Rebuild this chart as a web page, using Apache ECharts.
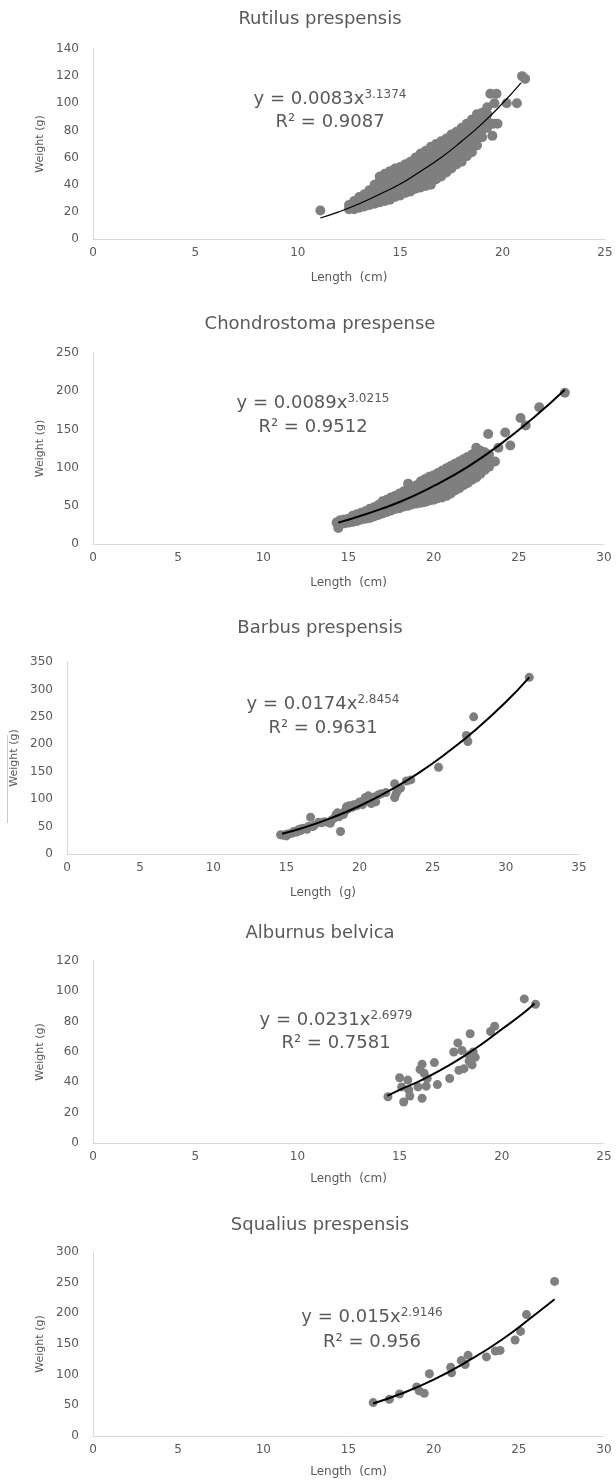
<!DOCTYPE html>
<html>
<head>
<meta charset="utf-8">
<script src="https://cdn.jsdelivr.net/npm/echarts@6/dist/echarts.min.js"></script>
<style>
html,body{margin:0;padding:0;background:#fff;}
#chart{width:616px;height:1480px;}
</style>
</head>
<body>
<div id="chart"></div>
<script>
// ---------- data ----------
var speciesNames = ['Rutilus prespensis', 'Chondrostoma prespense', 'Barbus prespensis', 'Alburnus belvica', 'Squalius prespensis'];
var xAxisNames = ['Length  (cm)', 'Length  (cm)', 'Length  (g)', 'Length  (cm)', 'Length  (cm)'];
var yAxisName = 'Weight (g)';
var xMax = [25, 30, 35, 25, 30];
var yMax = [140, 250, 350, 120, 300];
var yStep = [20, 50, 50, 20, 50];
var coefA = ['0.0083', '0.0089', '0.0174', '0.0231', '0.015'];
var expB = ['3.1374', '3.0215', '2.8454', '2.6979', '2.9146'];
var rSquared = ['0.9087', '0.9512', '0.9631', '0.7581', '0.956'];

var rutilusPoints = [
[11.1,21],
[12.5,22],[12.5,25],
[12.75,22],[12.75,26],[12.75,28],
[13,23],[13,26],[13,29],[13,31],
[13.25,24],[13.25,27],[13.25,30],[13.25,33],
[13.5,25],[13.5,28],[13.5,31],[13.5,34],[13.5,36],
[13.75,26],[13.75,29],[13.75,33],[13.75,37],[13.75,40],
[14,27],[14,31],[14,35],[14,39],[14,43],[14,46],
[14.25,28],[14.25,32],[14.25,36],[14.25,40],[14.25,44],[14.25,48],
[14.5,29],[14.5,33],[14.5,38],[14.5,42],[14.5,46],[14.5,50],
[14.75,31],[14.75,35],[14.75,39],[14.75,44],[14.75,48],[14.75,52],
[15,32],[15,36],[15,41],[15,45],[15,49],[15,53],
[15.25,34],[15.25,38],[15.25,43],[15.25,47],[15.25,51],[15.25,55],
[15.5,35],[15.5,40],[15.5,45],[15.5,49],[15.5,53],[15.5,57],
[15.75,37],[15.75,42],[15.75,47],[15.75,52],[15.75,56],[15.75,60],
[16,38],[16,43],[16,49],[16,54],[16,58],[16,63],
[16.25,39],[16.25,45],[16.25,51],[16.25,56],[16.25,61],[16.25,65],
[16.5,40],[16.5,46],[16.5,52],[16.5,58],[16.5,63],[16.5,68],
[16.75,44],[16.75,49],[16.75,55],[16.75,60],[16.75,65],[16.75,70],
[17,46],[17,51],[17,57],[17,62],[17,67],[17,72],
[17.25,49],[17.25,54],[17.25,60],[17.25,65],[17.25,70],[17.25,74],
[17.5,52],[17.5,57],[17.5,63],[17.5,68],[17.5,73],[17.5,77],
[17.75,55],[17.75,60],[17.75,65],[17.75,70],[17.75,75],[17.75,79],
[18,57],[18,63],[18,68],[18,73],[18,78],[18,82],
[18.25,61],[18.25,66],[18.25,71],[18.25,76],[18.25,81],[18.25,85],
[18.5,64],[18.5,69],[18.5,74],[18.5,79],[18.5,84],[18.5,88],
[18.75,69],[18.75,74],[18.75,79],[18.75,84],[18.75,89],[18.75,92],
[19,75],[19,80],[19,85],[19,89],[19,93],
[19.25,82],[19.25,87],[19.25,92],[19.25,97],
[19.4,107],[19.7,107],[19.6,100],[20.2,100],[20.7,100],[19.5,76],[19.55,85],[19.75,85],[20.95,120],[21.1,118]
];
var rutilusTrend = [[11.1,15.5],[12,20],[13,26],[14,33],[15,40.5],[16,50],[17,60],[18,72],[19,85],[20,100],[20.9,115]];

var chondrostomaPoints = [
[14.4,21],[14.3,28],
[14.5,26],[14.5,31],
[14.75,27],[14.75,32],
[15,28],[15,33],
[15.25,29],[15.25,34],[15.25,37],
[15.5,30],[15.5,35],[15.5,39],
[15.75,32],[15.75,37],[15.75,41],
[16,33],[16,38],[16,43],
[16.25,34],[16.25,40],[16.25,46],
[16.5,36],[16.5,42],[16.5,48],
[16.75,38],[16.75,44],[16.75,51],
[17,40],[17,46],[17,52],[17,56],
[17.25,42],[17.25,48],[17.25,54],[17.25,58],
[17.5,44],[17.5,50],[17.5,56],[17.5,61],
[17.75,46],[17.75,52],[17.75,58],[17.75,63],
[18,47],[18,54],[18,60],[18,66],
[18.25,49],[18.25,56],[18.25,62],[18.25,69],
[18.5,50],[18.5,57],[18.5,64],[18.5,71],[18.5,79],
[18.75,52],[18.75,59],[18.75,66],[18.75,74],
[19,53],[19,61],[19,69],[19,77],
[19.25,54],[19.25,62],[19.25,70],[19.25,78],[19.25,82],
[19.5,55],[19.5,63],[19.5,71],[19.5,79],[19.5,85],
[19.75,57],[19.75,65],[19.75,73],[19.75,81],[19.75,88],
[20,58],[20,66],[20,74],[20,82],[20,90],
[20.25,60],[20.25,68],[20.25,76],[20.25,84],[20.25,93],
[20.5,61],[20.5,70],[20.5,78],[20.5,86],[20.5,96],
[20.75,63],[20.75,72],[20.75,80],[20.75,89],[20.75,99],
[21,66],[21,74],[21,83],[21,92],[21,102],
[21.25,70],[21.25,78],[21.25,86],[21.25,95],[21.25,105],
[21.5,73],[21.5,81],[21.5,89],[21.5,98],[21.5,108],
[21.75,77],[21.75,85],[21.75,93],[21.75,102],[21.75,111],
[22,80],[22,88],[22,96],[22,105],[22,114],
[22.25,84],[22.25,92],[22.25,100],[22.25,109],[22.25,117],
[22.5,87],[22.5,95],[22.5,104],[22.5,112],[22.5,121],[22.5,126],
[22.75,92],[22.75,100],[22.75,108],[22.75,116],[22.75,122],
[23,97],[23,105],[23,113],[23,120],
[23.25,101],[23.25,110],[23.25,117],
[23.6,108],[23.8,126],
[23.2,144],[24.2,146],[24.5,129],[25.1,165],[25.4,155],[26.2,179],[27.7,198]
];
var chondrostomaTrend = [[14.4,28],[16,39],[18,55],[20,76],[22,101],[24,132],[26,168],[27.7,202]];

var barbusPoints = [
[14.6,35],[14.8,34],[15,36],[15,33],[15.2,37],[15.4,38],[15.5,41],[15.7,40],[15.8,44],[16,43],
[16,46],[16.2,47],[16.4,45],[16.5,50],[16.65,67],[16.8,50],[16.9,52],[17.2,58],[17.4,57],[17.6,59],
[17.8,58],[18,56],[18.1,62],[18.3,66],[18.4,72],[18.5,75],[18.6,68],[18.7,41],[18.9,72],[19,78],
[19.1,86],[19.2,82],[19.3,88],[19.5,85],[19.6,90],[19.8,88],[19.9,92],[20,95],[20.2,90],[20.3,98],
[20.4,103],[20.5,96],[20.6,106],[20.7,100],[20.8,92],[20.9,98],[21,104],[21.1,95],[21.3,108],[21.5,110],
[21.8,112],[22.4,128],[22.4,103],[22.5,110],[22.6,116],[22.8,120],[23.2,133],[23.5,135],[25.4,158],[27.3,216],
[27.4,205],[27.8,250],[31.6,322]
];
var barbusTrend = [[14.7,37],[16,46.5],[18,65],[20,87.5],[22,115],[24,147],[26,185],[28,228],[30,277],[31.6,322]];

var alburnusPoints = [
[14.43,30.5],[15,43],[15.1,37],[15.2,27],[15.4,41.5],[15.5,31],[15.45,35],[15.9,37],[16,48.5],[16.1,52],
[16.2,46],[16.1,29.5],[16.3,37.5],[16.35,42.5],[16.7,53],[16.85,38.5],[17.45,42.5],[17.65,60],[17.85,66],[17.9,48],
[18.05,61],[18.15,49],[18.45,72],[18.4,54],[18.4,58],[18.55,51.5],[18.7,56.5],[18.6,60],[19.45,73.5],[19.65,77],
[21.1,95],[21.65,91.5]
];
var alburnusTrend = [[14.4,31],[15,35],[16,41],[17,48],[18,56],[19,65],[20,75],[21,85],[21.6,92]];

var squaliusPoints = [
[16.45,54.5],[17.4,60],[18,68.5],[19,80],[19.15,73.5],[19.45,69.5],[19.75,101.5],[21,112],[21.05,103],[21.62,123],
[21.85,116.5],[22.02,131.5],[23.1,129],[23.62,138.5],[23.9,139.5],[24.78,156.5],[25.1,170.5],[25.45,198],[27.1,252]
];
var squaliusTrend = [[16.45,53],[18,68],[20,92],[22,122],[24,157],[26,199],[27.1,223]];

var allPoints = [rutilusPoints, chondrostomaPoints, barbusPoints, alburnusPoints, squaliusPoints];
var allTrends = [rutilusTrend, chondrostomaTrend, barbusTrend, alburnusTrend, squaliusTrend];

// ---------- layout / style ----------
var FONT = 'DejaVu Sans';
var TXT = '#595959';
var gridBoxes = [
  {left: 93, top: 49, width: 512, height: 190},
  {left: 93, top: 353, width: 511, height: 191},
  {left: 67, top: 662, width: 512, height: 192},
  {left: 93, top: 961, width: 511, height: 182},
  {left: 93, top: 1252, width: 511, height: 184}
];
var dotSize = [10, 10, 9, 9, 9];
var titleCenterY = [21, 326, 630, 935, 1227];
var xNameGap = [33, 33, 33, 30, 30];
var yNameGap = [45, 45, 41, 45, 45];
var eqCenter = [[330, 99, 122], [313, 403, 427], [323, 704, 728], [336, 1020, 1043], [372, 1317, 1342]];

var grids = [], xAxes = [], yAxes = [], series = [], titles = [], graphics = [];
for (var i = 0; i < 5; i++) {
  var g = gridBoxes[i];
  grids.push({left: g.left, top: g.top, width: g.width, height: g.height, containLabel: false});
  titles.push({
    text: speciesNames[i], left: 320, top: titleCenterY[i] - 11, textAlign: 'center', padding: 0,
    textStyle: {fontFamily: FONT, fontSize: 18, fontWeight: 'normal', color: TXT}
  });
  xAxes.push({
    gridIndex: i, type: 'value', min: 0, max: xMax[i], interval: 5,
    axisLine: {show: true, lineStyle: {color: '#d9d9d9', width: 1}},
    axisTick: {show: false}, splitLine: {show: false},
    axisLabel: {color: TXT, fontFamily: FONT, fontSize: 12, margin: 8},
    name: xAxisNames[i], nameLocation: 'middle', nameGap: xNameGap[i],
    nameTextStyle: {color: TXT, fontFamily: FONT, fontSize: 12}
  });
  yAxes.push({
    gridIndex: i, type: 'value', min: 0, max: yMax[i], interval: yStep[i],
    axisLine: {show: true, lineStyle: {color: '#d9d9d9', width: 1}},
    axisTick: {show: false}, splitLine: {show: false},
    axisLabel: {color: TXT, fontFamily: FONT, fontSize: 12, margin: 14},
    name: yAxisName, nameLocation: 'middle', nameGap: yNameGap[i],
    nameTextStyle: {color: TXT, fontFamily: FONT, fontSize: 11}
  });
  series.push({
    type: 'scatter', xAxisIndex: i, yAxisIndex: i, data: allPoints[i],
    symbol: 'circle', symbolSize: dotSize[i], itemStyle: {color: '#7f7f7f', opacity: 1}, silent: true
  });
  series.push({
    type: 'line', xAxisIndex: i, yAxisIndex: i, data: allTrends[i],
    smooth: true, showSymbol: false, symbol: 'none', silent: true,
    lineStyle: {color: '#000', width: i === 0 ? 1.2 : 2}, z: 5
  });
  var e = eqCenter[i];
  graphics.push({
    type: 'text', x: e[0], y: e[1], z: 10,
    style: {
      text: '{a|y = ' + coefA[i] + 'x}{b|' + expB[i] + '}',
      align: 'center', verticalAlign: 'middle',
      rich: {
        a: {fontFamily: FONT, fontSize: 18, lineHeight: 20, fill: TXT},
        b: {fontFamily: FONT, fontSize: 12, lineHeight: 10, fill: TXT, verticalAlign: 'top'}
      }
    }
  });
  graphics.push({
    type: 'text', x: e[0], y: e[2], z: 10,
    style: {
      text: 'R\u00B2 = ' + rSquared[i], align: 'center', verticalAlign: 'middle',
      fontFamily: FONT, fontSize: 18, fill: TXT
    }
  });
}
// stray rule at the left of the third panel
graphics.push({type: 'line', shape: {x1: 7.5, y1: 735, x2: 7.5, y2: 823}, style: {stroke: '#c8c8c8', lineWidth: 1}});

var chart = echarts.init(document.getElementById('chart'), null, {renderer: 'canvas'});
chart.setOption({
  backgroundColor: '#fff',
  animation: false,
  title: titles,
  grid: grids,
  xAxis: xAxes,
  yAxis: yAxes,
  series: series,
  graphic: graphics
});
</script>
</body>
</html>
